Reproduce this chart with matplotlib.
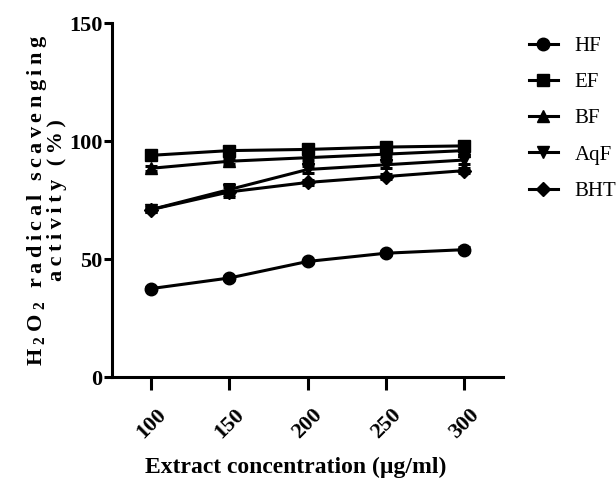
import numpy as np
import matplotlib
matplotlib.use("Agg")
import matplotlib.pyplot as plt
import matplotlib.transforms as mtransforms

plt.rcParams['font.family'] = ['Liberation Serif', 'DejaVu Serif']
plt.rcParams['mathtext.fontset'] = 'custom'
plt.rcParams['mathtext.rm'] = 'Liberation Serif:bold'
plt.rcParams['mathtext.bf'] = 'Liberation Serif:bold'

# concentrations (ug/ml)
conc = [100, 150, 200, 250, 300]

# scavenging activity (%)
hf = [37.5, 42.0, 49.0, 52.5, 54.0]
ef = [94.0, 96.0, 96.5, 97.5, 98.0]
bf = [88.5, 91.5, 93.0, 94.5, 96.0]
aqf = [71.0, 79.5, 88.0, 90.0, 92.0]
bht = [71.0, 78.5, 82.5, 85.0, 87.5]

# small error bars visible on a few points
hf_err = [0.8, 0.8, 0.8, 0.8, 1.0]
ef_err = [1.5, 1.5, 1.5, 1.5, 1.5]
bf_err = [1.0, 1.0, 1.0, 1.0, 1.0]
aqf_err = [1.0, 2.5, 1.5, 1.5, 1.5]
bht_err = [1.0, 2.0, 1.0, 1.0, 1.0]

series = [
    ("HF", hf, hf_err, "o"),
    ("EF", ef, ef_err, "s"),
    ("BF", bf, bf_err, "^"),
    ("AqF", aqf, aqf_err, "v"),
    ("BHT", bht, bht_err, "D"),
]

fig = plt.figure(figsize=(6.16, 4.84), dpi=100)
ax = fig.add_axes([0.182, 0.221, 0.635, 0.731])

for name, vals, err, mk in series:
    ms = 7.5 if mk == "D" else 9
    ax.errorbar(conc, vals, yerr=err, color="black", marker=mk, markersize=ms,
                linewidth=2.2, elinewidth=2.2, capsize=4, capthick=2.2,
                label=name)

ax.set_xlim(75, 325)
ax.set_ylim(0, 150)
ax.set_xticks(conc)
ax.set_yticks([0, 50, 100, 150])
ax.set_xticklabels([str(c) for c in conc], rotation=45, fontsize=16,
                   fontweight="bold")
ax.set_yticklabels(["0", "50", "100", "150"], fontsize=16, fontweight="bold")

# nudge rotated x labels a little to the left
shift = mtransforms.ScaledTranslation(-5 / 72, 0, fig.dpi_scale_trans)
for lab in ax.get_xticklabels():
    lab.set_transform(lab.get_transform() + shift)

for s in ["top", "right"]:
    ax.spines[s].set_visible(False)
for s in ["left", "bottom"]:
    ax.spines[s].set_linewidth(2.2)
ax.tick_params(width=2.2, length=6, direction="out", pad=1)
ax.tick_params(axis="x", length=9, pad=11)

ax.set_xlabel("Extract concentration (\u00b5g/ml)", fontsize=17,
              fontweight="bold")
ax.xaxis.set_label_coords(0.47, -0.225)

sp = "\u2009"
line1 = ("H" + sp + "$_2$" + sp + "O" + sp + "$_2$" + sp + sp + sp
         + sp.join("radical") + sp + sp + sp + sp.join("scavenging"))
line2 = sp.join("activity") + sp + sp + sp + sp.join("(%)")
ax.set_ylabel(line1 + "\n" + line2, fontsize=16, fontweight="bold",
              linespacing=0.9)
ax.yaxis.set_label_coords(-0.115, 0.5)

handles, labels = ax.get_legend_handles_labels()
handles = [h[0] for h in handles]
leg = fig.legend(handles, labels, loc="upper left",
                 bbox_to_anchor=(0.858, 0.925), frameon=False, fontsize=15,
                 handlelength=1.4, labelspacing=0.8, handletextpad=0.8,
                 borderpad=0, borderaxespad=0)

fig.savefig("out.png", dpi=100)
